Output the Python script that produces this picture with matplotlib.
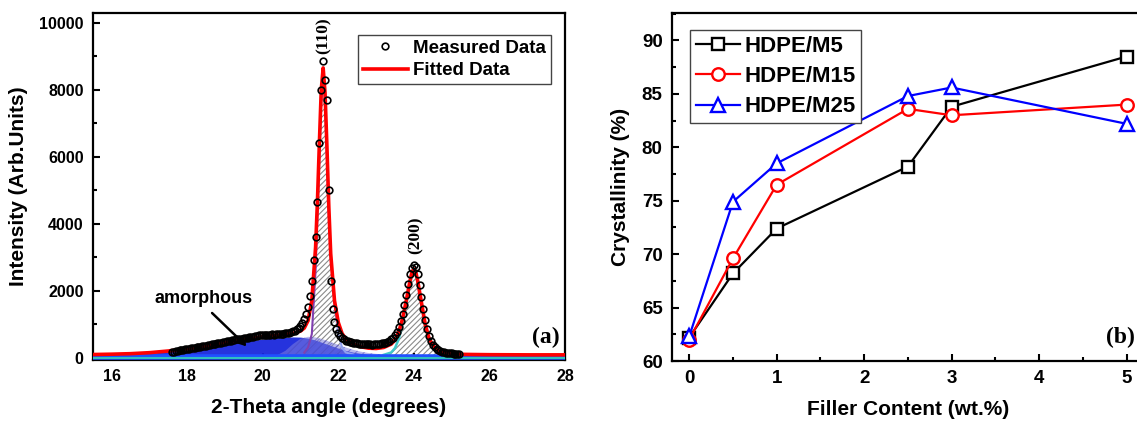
import matplotlib
matplotlib.use("Agg")
import matplotlib.pyplot as plt
from matplotlib.ticker import MultipleLocator

plt.rcParams['font.family'] = ['Liberation Sans', 'DejaVu Sans']
plt.rcParams['font.weight'] = 'bold'
plt.rcParams['axes.labelweight'] = 'bold'
plt.rcParams['hatch.linewidth'] = 0.8

# ---- panel (a): XRD pattern ----
meas_x = [17.60, 17.65, 17.70, 17.75, 17.80, 17.85, 17.90, 17.95, 18.00, 18.05,
          18.10, 18.15, 18.20, 18.25, 18.30, 18.35, 18.40, 18.45, 18.50, 18.55,
          18.60, 18.65, 18.70, 18.75, 18.80, 18.85, 18.90, 18.95, 19.00, 19.05,
          19.10, 19.15, 19.20, 19.25, 19.30, 19.35, 19.40, 19.45, 19.50, 19.55,
          19.60, 19.65, 19.70, 19.75, 19.80, 19.85, 19.90, 19.95, 20.00, 20.05,
          20.10, 20.15, 20.20, 20.25, 20.30, 20.35, 20.40, 20.45, 20.50, 20.55,
          20.60, 20.65, 20.70, 20.75, 20.80, 20.85, 20.90, 20.95, 21.00, 21.05,
          21.10, 21.15, 21.20, 21.25, 21.30, 21.35, 21.40, 21.45, 21.50, 21.55,
          21.60, 21.65, 21.70, 21.75, 21.80, 21.85, 21.90, 21.95, 22.00, 22.05,
          22.10, 22.15, 22.20, 22.25, 22.30, 22.35, 22.40, 22.45, 22.50, 22.55,
          22.60, 22.65, 22.70, 22.75, 22.80, 22.85, 22.90, 22.95, 23.00, 23.05,
          23.10, 23.15, 23.20, 23.25, 23.30, 23.35, 23.40, 23.45, 23.50, 23.55,
          23.60, 23.65, 23.70, 23.75, 23.80, 23.85, 23.90, 23.95, 24.00, 24.05,
          24.10, 24.15, 24.20, 24.25, 24.30, 24.35, 24.40, 24.45, 24.50, 24.55,
          24.60, 24.65, 24.70, 24.75, 24.80, 24.85, 24.90, 24.95, 25.00, 25.05,
          25.10, 25.15, 25.20]
meas_y = [170, 180, 195, 200, 215, 225, 230, 245, 250, 265,
          270, 285, 290, 305, 310, 320, 335, 345, 355, 370,
          380, 390, 400, 415, 420, 435, 445, 460, 470, 485,
          490, 505, 515, 525, 540, 545, 560, 565, 580, 590,
          595, 610, 615, 625, 640, 650, 665, 670, 660, 675,
          680, 670, 685, 690, 680, 695, 700, 705, 700, 715,
          720, 730, 745, 760, 780, 800, 840, 880, 950, 1030,
          1150, 1300, 1500, 1850, 2300, 2900, 3600, 4650, 6400, 8000,
          8850, 8300, 7700, 5000, 2300, 1450, 1050, 850, 720, 640,
          580, 540, 500, 480, 460, 450, 440, 430, 420, 415,
          410, 400, 405, 395, 390, 395, 385, 390, 395, 400,
          410, 420, 430, 445, 470, 500, 540, 590, 660, 760,
          900, 1080, 1300, 1580, 1880, 2200, 2480, 2680, 2750, 2700,
          2480, 2180, 1820, 1450, 1120, 850, 630, 480, 370, 300,
          250, 215, 190, 170, 155, 145, 135, 130, 125, 120,
          115, 112, 110]

fit_x = [15.5, 16.0, 16.5, 17.0, 17.5, 18.0, 18.5, 19.0, 19.5, 20.0, 20.5, 20.8,
         21.0, 21.1, 21.2, 21.3, 21.4, 21.45, 21.5, 21.55, 21.6, 21.65, 21.7,
         21.75, 21.8, 21.9, 22.0, 22.1, 22.2, 22.4, 22.6, 22.8, 23.0, 23.2,
         23.4, 23.5, 23.6, 23.7, 23.8, 23.9, 23.95, 24.0, 24.05, 24.1, 24.2,
         24.3, 24.4, 24.5, 24.6, 24.8, 25.0, 25.3, 25.6, 26.0, 27.0, 28.0]
fit_y = [90, 100, 115, 145, 195, 260, 345, 440, 540, 620, 680, 720,
         790, 880, 1100, 1700, 3300, 4700, 6400, 8000, 8650, 7900, 6300,
         4500, 3100, 1700, 1050, 720, 550, 400, 320, 280, 270, 300,
         400, 520, 760, 1150, 1700, 2300, 2550, 2650, 2560, 2300, 1650,
         1000, 580, 370, 250, 160, 120, 95, 90, 85, 80, 80]

amor1_x = [15.5, 16.0, 16.5, 17.0, 17.5, 18.0, 18.5, 19.0, 19.5, 20.0, 20.5, 20.8,
           21.0, 21.2, 21.4, 21.6, 21.8, 22.0, 22.2, 22.4, 22.6, 22.8, 23.0,
           23.5, 24.0, 28.0]
amor1_y = [80, 90, 105, 130, 175, 235, 310, 395, 480, 550, 600, 615,
           610, 580, 520, 440, 360, 280, 210, 160, 125, 105, 95,
           85, 80, 80]

amor2_x = [20.4, 20.6, 20.8, 21.0, 21.2, 21.4, 21.6, 21.8, 22.0, 22.2, 22.4,
           22.6, 22.8, 23.0, 23.3, 23.6]
amor2_y = [80, 200, 400, 560, 620, 600, 540, 460, 380, 300, 230,
           175, 135, 110, 90, 80]

p110_x = [21.1, 21.2, 21.3, 21.4, 21.5, 21.55, 21.6, 21.65, 21.7, 21.75, 21.8,
          21.9, 22.0, 22.1, 22.2, 22.4]
p110_y = [150, 300, 700, 2600, 6000, 7700, 8200, 7600, 6000, 4300, 3000,
          1600, 700, 300, 150, 90]

p200_x = [23.2, 23.4, 23.5, 23.6, 23.7, 23.8, 23.9, 23.95, 24.0, 24.05, 24.1,
          24.2, 24.3, 24.4, 24.5, 24.6, 24.8, 25.0]
p200_y = [80, 150, 280, 550, 1000, 1600, 2200, 2450, 2580, 2500, 2250,
          1600, 950, 500, 280, 170, 100, 80]

base_x = [15.5, 28.0]
base_blue = [30, 30]
base_cyan = [0, 0]

# ---- panel (b): crystallinity ----
filler = [0, 0.5, 1, 2.5, 3, 5]
m5 = [62.2, 68.2, 72.4, 78.2, 83.8, 88.5]
m15 = [62.0, 69.6, 76.5, 83.6, 83.0, 84.0]
m25 = [62.3, 74.9, 78.5, 84.8, 85.6, 82.2]

fig = plt.figure(figsize=(11.37, 4.22), dpi=100)
ax1 = fig.add_axes([0.0815, 0.148, 0.4154, 0.822])
ax2 = fig.add_axes([0.5908, 0.1445, 0.4154, 0.8254])

# components
ax1.fill_between(p110_x, 0, p110_y, facecolor='white', edgecolor='#8a8a8a',
                 hatch='//////', linewidth=0, zorder=1)
ax1.fill_between(p200_x, 0, p200_y, facecolor='white', edgecolor='#8a8a8a',
                 hatch='//////', linewidth=0, zorder=1)
ax1.fill_between(amor1_x, 0, amor1_y, color='#1a28dc', alpha=0.95, linewidth=0, zorder=2)
ax1.fill_between(amor2_x, 0, amor2_y, facecolor='#7f7fe0', edgecolor='#4a4ac0',
                 hatch='////', alpha=0.55, linewidth=0, zorder=3)
ax1.plot(p110_x[:7], p110_y[:7], color='#8040b0', lw=1.5, zorder=4)
ax1.plot(p110_x[6:], p110_y[6:], color='#8fa0f0', lw=1.5, zorder=4)
ax1.plot(p200_x, p200_y, color='#40c8c8', lw=1.8, zorder=4)
ax1.plot(base_x, base_blue, color='#2050ff', lw=4, zorder=4)
ax1.plot(base_x, base_cyan, color='#30c0c0', lw=1.5, zorder=4)

ax1.plot(fit_x, fit_y, color='red', lw=2.6, zorder=5, label='Fitted Data')
ax1.plot(meas_x, meas_y, 'o', ms=4.8, mfc='none', mec='black', mew=1.2,
         zorder=6, label='Measured Data')

ax1.set_xlim(15.5, 28)
ax1.set_ylim(-60, 10300)
ax1.xaxis.set_major_locator(MultipleLocator(2))
ax1.xaxis.set_minor_locator(MultipleLocator(1))
ax1.yaxis.set_major_locator(MultipleLocator(2000))
ax1.yaxis.set_minor_locator(MultipleLocator(1000))
ax1.set_xlabel('2-Theta angle (degrees)', fontsize=15)
ax1.set_ylabel('Intensity (Arb.Units)', fontsize=15)
ax1.xaxis.set_label_coords(0.5, -0.112)
ax1.yaxis.set_label_coords(-0.137, 0.5)

h, l = ax1.get_legend_handles_labels()
leg1 = ax1.legend(h[::-1], l[::-1], loc='upper right', bbox_to_anchor=(0.970, 0.936),
                  borderaxespad=0, fancybox=False, fontsize=13.5, handlelength=2.4,
                  handletextpad=0.3, labelspacing=0.3, borderpad=0.25, framealpha=1)
leg1.get_frame().set_edgecolor('#444444')
leg1.get_frame().set_linewidth(1.0)

ax1.text(21.60, 9070, '(110)', rotation=90, ha='center', va='bottom',
         family='Liberation Serif', fontsize=12.5, fontweight='bold')
ax1.text(24.04, 3080, '(200)', rotation=90, ha='center', va='bottom',
         family='Liberation Serif', fontsize=12.5, fontweight='bold')
ax1.text(18.43, 1770, 'amorphous', ha='center', va='center', fontsize=13)
ax1.annotate('', xy=(19.58, 330), xytext=(18.66, 1330),
             arrowprops=dict(arrowstyle='-|>', color='black', lw=1.8, mutation_scale=13,
                             shrinkA=0, shrinkB=0),
             zorder=7)
ax1.text(27.85, 600, '(a)', ha='right', va='center', family='Liberation Serif',
         fontsize=17, fontweight='bold')

# panel (b)
ax2.plot(filler, m5, '-s', color='black', lw=1.6, ms=8.5, mfc='white', mew=1.7,
         label='HDPE/M5')
ax2.plot(filler, m15, '-o', color='red', lw=1.6, ms=9, mfc='white', mew=1.7,
         label='HDPE/M15')
ax2.plot(filler, m25, '-^', color='blue', lw=1.6, ms=10, mfc='white', mew=1.7,
         label='HDPE/M25')

ax2.set_xlim(-0.2, 5.2)
ax2.set_ylim(60, 92.6)
ax2.xaxis.set_major_locator(MultipleLocator(1))
ax2.xaxis.set_minor_locator(MultipleLocator(0.5))
ax2.yaxis.set_major_locator(MultipleLocator(5))
ax2.yaxis.set_minor_locator(MultipleLocator(2.5))
ax2.set_xlabel('Filler Content (wt.%)', fontsize=15)
ax2.set_ylabel('Crystallinity (%)', fontsize=15)
ax2.xaxis.set_label_coords(0.5, -0.112)
ax2.yaxis.set_label_coords(-0.088, 0.5)

leg2 = ax2.legend(loc='upper left', bbox_to_anchor=(0.039, 0.950), borderaxespad=0,
                  fancybox=False, fontsize=16, handlelength=2.0, handletextpad=0.2,
                  labelspacing=0.42, borderpad=0.25, framealpha=1)
leg2.get_frame().set_edgecolor('#444444')
leg2.get_frame().set_linewidth(1.0)

ax2.text(4.77, 62.2, '(b)', ha='left', va='center', family='Liberation Serif',
         fontsize=17, fontweight='bold')

for ax, ls in ((ax1, 11.5), (ax2, 13.5)):
    for s in ax.spines.values():
        s.set_linewidth(1.6)
    ax.tick_params(which='both', direction='in', top=False, right=False,
                   labelsize=ls, width=1.5, pad=6.5)
    ax.tick_params(which='major', length=5)
    ax.tick_params(which='minor', length=3)

fig.savefig('out.png', dpi=100)
